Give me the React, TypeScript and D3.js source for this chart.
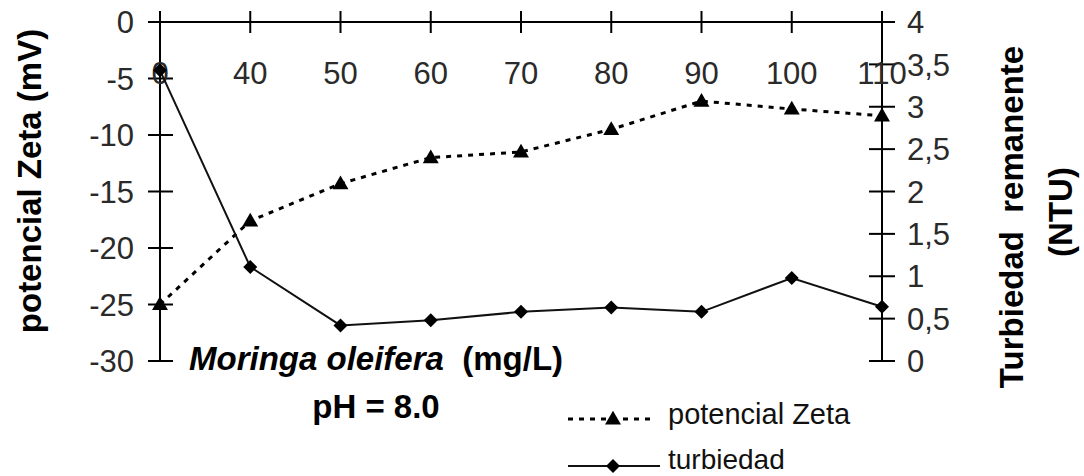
import React from "react";
import * as d3 from "d3";

// Moringa oleifera dose (mg/L), category axis
const categories = ["0", "40", "50", "60", "70", "80", "90", "100", "110"];
// potencial Zeta (mV), left axis
const zeta = [-25, -17.6, -14.3, -12.0, -11.5, -9.5, -7.0, -7.7, -8.3];
// turbiedad remanente (NTU), right axis
const turbidity = [3.43, 1.11, 0.42, 0.48, 0.58, 0.63, 0.58, 0.98, 0.64];

const leftTicks = [0, -5, -10, -15, -20, -25, -30];
const rightTicks = [0, 0.5, 1, 1.5, 2, 2.5, 3, 3.5, 4];

const W = 1084;
const H = 476;
const x0 = 160;
const x1 = 882;
const yTop = 22;
const yBot = 361;

const App = () => {
  const x = d3.scalePoint<string>().domain(categories).range([x0, x1]);
  const yL = d3.scaleLinear().domain([-30, 0]).range([yBot, yTop]);
  const yR = d3.scaleLinear().domain([0, 4]).range([yBot, yTop]);

  const zetaLine = d3
    .line<number>()
    .x((_, i) => x(categories[i]) as number)
    .y((d) => yL(d));
  const turbLine = d3
    .line<number>()
    .x((_, i) => x(categories[i]) as number)
    .y((d) => yR(d));

  const tri = d3.symbol().type(d3.symbolTriangle).size(110)();
  const dia = (s: number) => `M0,${-s}L${s},0L0,${s}L${-s},0Z`;

  const fmtR = (v: number) => String(v).replace(".", ",");
  const font = "'Liberation Sans', Arial, sans-serif";
  const tickColor = "#2a2a2a";

  return (
    <svg
      width={W}
      height={H}
      style={{ position: "absolute", left: 0, top: 0, background: "#fff" }}
      fontFamily={font}
    >
      {/* axes */}
      <g stroke="#000" strokeWidth={2}>
        <line x1={x0} x2={x1} y1={yTop} y2={yTop} />
        <line x1={x0} x2={x0} y1={11} y2={yBot} />
        <line x1={x1} x2={x1} y1={11} y2={yBot} />
        {categories.map((c) => (
          <line key={c} x1={x(c)} x2={x(c)} y1={11} y2={33} />
        ))}
        {leftTicks.map((t) => (
          <line key={t} x1={x0 - 12} x2={x0 + 13} y1={yL(t)} y2={yL(t)} />
        ))}
        {rightTicks.map((t) => (
          <line key={t} x1={x1 - 13} x2={x1 + 13} y1={yR(t)} y2={yR(t)} />
        ))}
      </g>

      {/* tick labels */}
      <g fontSize={31} fill={tickColor}>
        {leftTicks.map((t) => (
          <text key={t} x={134} y={yL(t)} dy="0.36em" textAnchor="end">
            {t}
          </text>
        ))}
        {rightTicks.map((t) => (
          <text key={t} x={907} y={yR(t)} dy="0.36em" textAnchor="start">
            {fmtR(t)}
          </text>
        ))}
        {categories.map((c) => (
          <text key={c} x={x(c)} y={84} textAnchor="middle">
            {c}
          </text>
        ))}
      </g>

      {/* series */}
      <path
        d={zetaLine(zeta) ?? ""}
        fill="none"
        stroke="#000"
        strokeWidth={3}
        strokeDasharray="5,6"
      />
      <path d={turbLine(turbidity) ?? ""} fill="none" stroke="#111" strokeWidth={2} />
      {zeta.map((v, i) => (
        <path
          key={"z" + i}
          d={tri ?? ""}
          transform={`translate(${x(categories[i])},${yL(v) + 1})`}
          fill="#000"
        />
      ))}
      {turbidity.map((v, i) => (
        <path
          key={"t" + i}
          d={dia(7)}
          transform={`translate(${x(categories[i])},${yR(v)})`}
          fill="#000"
        />
      ))}

      {/* axis titles */}
      <g fontSize={33} fontWeight="bold" fill="#000">
        <text
          transform="translate(29,181) rotate(-90)"
          textAnchor="middle"
          dy="0.35em"
        >
          potencial Zeta (mV)
        </text>
        <text
          transform="translate(1011,217) rotate(-90)"
          textAnchor="middle"
          dy="0.35em"
          style={{ whiteSpace: "pre" }}
        >
          {"Turbiedad  remanente"}
        </text>
        <text
          transform="translate(1060,212) rotate(-90)"
          textAnchor="middle"
          dy="0.35em"
        >
          (NTU)
        </text>
        <text x={189} y={370} style={{ whiteSpace: "pre" }}>
          <tspan fontStyle="italic">Moringa oleifera</tspan>
          <tspan>{"  (mg/L)"}</tspan>
        </text>
        <text x={376} y={418} textAnchor="middle">
          pH = 8.0
        </text>
      </g>

      {/* legend */}
      <g>
        <line
          x1={568}
          x2={655}
          y1={419}
          y2={419}
          stroke="#000"
          strokeWidth={3}
          strokeDasharray="5,6"
        />
        <path d={tri ?? ""} transform="translate(613,420)" fill="#000" />
        <text x={668} y={424} fontSize={29} fill="#111">
          potencial Zeta
        </text>
        <line x1={568} x2={660} y1={466} y2={466} stroke="#111" strokeWidth={2} />
        <path d={dia(7)} transform="translate(613,466)" fill="#000" />
        <text x={668} y={469} fontSize={28} fill="#111">
          turbiedad
        </text>
      </g>
    </svg>
  );
};

export default App;
